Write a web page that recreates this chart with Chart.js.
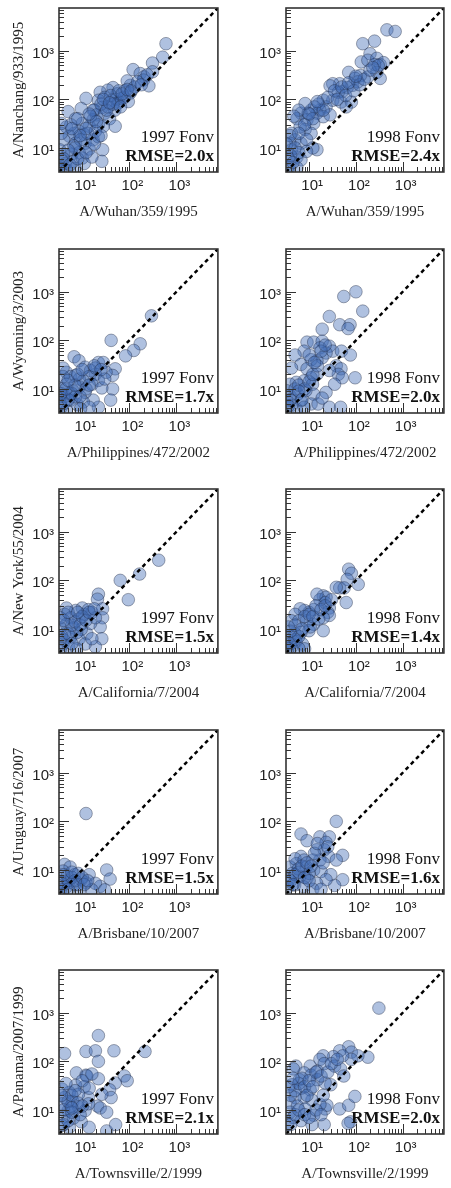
<!DOCTYPE html>
<html>
<head>
<meta charset="utf-8">
<script src="https://cdn.jsdelivr.net/npm/chart.js@4.4.1/dist/chart.umd.min.js"></script>
<style>
    body { margin: 0; background: #fff; }
    #figure { position: relative; width: 451px; height: 1188px; overflow: hidden; }
    #figure canvas { position: absolute; }
</style>
</head>
<body>
<div id="figure"></div>
<script>
// axis range (same on x and y, so the dashed y=x line runs corner to corner)
const axisMin = 3.2;
const axisMax = 7600;
const tickValues = [10, 100, 1000];
const tickLabels = ['10¹', '10²', '10³'];

// strain pairs (x axis, y axis) for each row
const xStrains = ['A/Wuhan/359/1995', 'A/Philippines/472/2002', 'A/California/7/2004', 'A/Brisbane/10/2007', 'A/Townsville/2/1999'];
const yStrains = ['A/Nanchang/933/1995', 'A/Wyoming/3/2003', 'A/New York/55/2004', 'A/Uruguay/716/2007', 'A/Panama/2007/1999'];
const seasons = ['1997 Fonv', '1998 Fonv'];
const rmse1997 = ['2.0x', '1.7x', '1.5x', '1.5x', '2.1x'];
const rmse1998 = ['2.4x', '2.0x', '1.4x', '1.6x', '2.0x'];

// titers, [x, y]
const wuhan1997 = [
    [600,1400],[510,740],[310,560],[120,410],[170,340],[205,290],[310,370],[200,250],[260,190],[105,195],
    [90,240],[80,150],[95,90],[45,175],[55,130],[35,155],[24,140],[30,110],[42,96],[52,100],
    [60,88],[68,105],[22,96],[26,68],[18,60],[12,105],[20,48],[30,52],[49,60],[38,40],
    [17,38],[14,28],[22,30],[28,28],[50,28],[10,32],[8.5,22],[11,19],[6.7,20],[5,56],
    [4.6,27],[5.3,17.5],[4,14.7],[7.2,12.5],[11.5,12.5],[17,14.7],[14,9.5],[8.6,8],[6,7.5],[4,7.5],
    [4.4,4.8],[6.3,5.2],[10,6.2],[27,9.2],[26,5.3],[3.3,9.2],[3.6,5.7],[3.4,4.2],[4.6,3.5],[7,3.8],
    [11,4.8],[16,6.5],[6.6,11],[9.2,14.7],[13,20],[19,22],[22,17],[56,82],[78,110],[104,135],
    [130,180],[35,70],[17,60],[9.5,65],[7.2,40],[5.7,30],[3.6,20],[3.6,32],
    [15,45],[25,80],[40,120],[33,60],[45,80],[60,150],[70,130],[90,160],[110,150],[20,35],
    [12,25],[9,18],[7,10],[5,9],[4,6],[3.5,3.8],[5.5,4.5],[8,6],[12,8],[18,12],
    [25,18],[6,25],[8,40],[14,50],[28,100],[38,85],[65,70],[150,230],[180,200],[240,320]
];
const wuhan1998 = [
    [460,2700],[690,2500],[250,1580],[140,1400],[200,870],[130,590],[180,640],[280,700],[330,520],[390,570],
    [250,520],[280,360],[180,290],[125,310],[70,360],[96,270],[330,270],[85,195],[65,175],[51,145],
    [110,230],[45,210],[32,210],[28,190],[42,140],[32,96],[48,88],[80,88],[62,70],[20,96],
    [23,70],[17,60],[14.7,52],[20,44],[28,48],[11,60],[6.7,52],[5.5,40],[9,38],[12.5,32],
    [8.2,24],[11,20],[6.4,27],[4.2,20],[5,14.7],[3.9,12.5],[6.7,12.5],[14.7,9.2],[4.2,9.2],[5.5,6.5],
    [6.7,5.7],[3.9,4.2],[5.5,3.9],[3.6,6.2],[16,80],[13,70],[9.5,52],[8.2,82],[6,60],[4.7,45],
    [3.9,18],[8.8,15],[12,10],[8.8,8.5],[3.3,12],
    [20,60],[25,110],[35,150],[50,180],[60,120],[90,150],[120,200],[150,260],[200,400],[300,500],
    [12,40],[8,30],[6,20],[5,10],[4,7],[3.5,4],[4.5,5],[6,8],[10,50],[15,90],
    [40,100],[70,220],[100,300],[230,450]
];
const philippines1997 = [
    [295,320],[41,100],[170,85],[124,62],[83,48],[6.7,46],[8.5,38],[22,35],[28,35],[11.5,28],
    [50,26],[44,19],[32,22],[19,20],[15,24],[14,18],[4.6,22],[3.9,18],[5.6,18],[8.6,16],
    [22,15],[44,10],[40,5.9],[22,4.2],[17,5.9],[11.5,8.5],[8.6,11],[6.3,9.2],[4.6,12.5],[3.6,10],
    [4.2,7],[5.7,5.9],[7.8,4.8],[10.5,5.4],[3.6,4.2],[4.6,3.6],[14,4.2],[16,12.5],[26,10.5],[10.5,14.7],
    [7.2,19],[30,16],[19,27],[3.9,27],[5.3,8],[7.2,6.9],[9.2,3.9],[3.4,7],[3.4,5],
    [4,5],[5,6],[6,8],[3.5,8],[4.5,10],[7,12],[9,7],[12,10],[5,15],[8,20],
    [10,25],[18,30],[25,25],[14,12]
];
const philippines1998 = [
    [100,1000],[55,800],[27,310],[140,400],[45,210],[75,210],[68,175],[19,170],[9,92],[7.8,60],
    [12.5,92],[19,96],[27,76],[17,70],[32,60],[23,55],[49,60],[76,50],[19,44],[14.7,38],
    [11,40],[5,50],[6.7,32],[4.2,27],[9,26],[38,30],[48,26],[42,20],[51,17],[96,17],
    [27,24],[14.7,20],[11,17],[7.8,14.7],[5.3,13.7],[3.9,12.5],[11.8,12.5],[35,12.5],[23,8.5],[12.5,7.8],
    [8.5,9.2],[5.7,7.8],[3.9,7.2],[6.7,5.7],[11,4.9],[4.2,4.6],[5.3,3.9],[15.5,4.9],[27,4.2],[47,4.2],
    [3.3,5.7],[3.3,9.2],[7.8,4.2],[19,6.5],
    [4,6],[5,10],[6,12],[8,10],[10,14],[12,20],[15,30],[18,60],[22,80],[10,50],
    [13,35],[6,9],[3.6,4.5],[7,6]
];
const california1997 = [
    [420,260],[165,135],[64,100],[95,40],[22,52],[21,41],[27,26],[27,17],[24,11],[26,6.3],
    [19,4.3],[12.5,8],[15,13],[11,20],[10,27],[7.2,24],[4.6,27],[4.2,20],[5.7,17],[8.5,16],
    [16,22],[19,17],[4.6,12.5],[6.6,10.5],[9.5,9.8],[4.2,7.9],[5.7,6.8],[8.5,6.2],[11.5,4.9],[3.9,4.9],
    [5.1,4.3],[7.6,3.9],[3.4,10.5],[3.4,17],[13.5,25],[7.6,8.4],[3.6,7.3],[16,6.3],
    [4,6],[5,8],[6,12],[7,14],[9,12],[10,18],[12,15],[4,15],[5,22],[8,22],
    [3.5,4],[6,5],[14,22],[18,26]
];
const california1998 = [
    [70,170],[80,140],[65,105],[112,83],[45,70],[56,70],[38,72],[62,35],[20,48],[17,40],
    [23,45],[22,35],[14.7,52],[27,27],[25,22],[27,19],[20,17],[12.5,25],[9.9,22],[8,24],
    [6.4,26],[5,20],[4.2,14.7],[6,14.7],[8.8,14.7],[12.5,12.5],[20,9.2],[9.9,9.2],[6.7,8.5],[5,8],
    [3.9,7],[5.3,5.5],[7.2,4.9],[4.2,4.2],[3.3,5],[3.6,11],[8,3.9],[10.5,11],[16,16],
    [4,5],[5,6],[6,7],[4,9],[5,12],[7,10],[8,18],[10,20],[12,18],[14,30],
    [18,25],[22,30],[30,40],[3.5,4],[6,4]
];
const brisbane1997 = [
    [12,145],[33,10],[39,6.5],[14,8],[24,4.6],[19,5.3],[4.2,13],[5.5,11.5],[3.9,9.5],[4.8,7.5],
    [6.9,8],[9.5,6.3],[12,5.4],[6.9,5],[4.5,4.4],[3.6,5.5],[9,3.9],[16,3.9],[30,3.9],[5.2,5.5],
    [8.2,8.5],
    [4,5],[5,6],[6,7],[4,8],[7,6],[8,5],[10,7],[3.5,4],[5,4],[6,9],
    [11,5],[13,6]
];
const brisbane1998 = [
    [38,100],[6.7,55],[9,40],[17,48],[27,48],[23,37],[14.5,26],[21,26],[26,19],[52,20],
    [38,16],[17,16],[12,16],[6.7,19],[5.3,13.5],[3.9,11.5],[8.7,11.5],[12.5,9.9],[18,9.3],[29,8],
    [52,6.3],[35,4.8],[23,6.3],[14.5,5.3],[9,6.8],[6.3,7.3],[4.4,8.5],[3.7,6.3],[4.9,4.9],[7.6,4.5],
    [12,4],[18,4],[3.5,4.5],[5,17],[7.8,16],[10,8.5],[5.9,10.5],
    [4,6],[5,8],[6,9],[7,12],[8,7],[9,14],[4.5,5],[10,6],[11,12],[13,22],
    [20,14],[15,35],[25,30]
];
const townsville1997 = [
    [22,340],[4.2,145],[12,160],[19,165],[47,165],[215,160],[22,100],[7.5,58],[12,52],[12.5,50],
    [78,50],[90,40],[50,36],[22,44],[38,26],[41,18],[26,21],[21,12],[24,11],[33,9],
    [33,3.7],[51,5],[13.5,18],[11,30],[7.2,32],[5.3,23],[4.2,18],[6.3,15],[8.3,11.5],[11.5,9.7],
    [5,9.7],[4,7.2],[6.5,6.8],[9.5,5.7],[14,4.4],[5.3,4.4],[3.7,4.8],[8.3,21],[13.5,13.4],[3.7,13.4],
    [5.7,12],[3.7,27],
    [4,10],[5,15],[6,20],[7,25],[8,14],[9,8],[4,5],[5,6],[6,9],[10,12],
    [3.6,20],[4.5,35],[10,40],[14,28],[16,55],[6,11]
];
const townsville1998 = [
    [310,1250],[70,200],[80,155],[45,165],[180,122],[110,130],[80,110],[52,130],[33,125],[20,130],
    [17,110],[21,90],[10.5,80],[5.2,80],[4.6,70],[7.8,58],[11,52],[15,63],[35,80],[47,70],
    [55,50],[29,33],[22,36],[15,42],[6.2,42],[4.3,33],[6.7,28],[10.5,26],[11.5,16],[7.8,18],
    [5,18],[3.9,14],[5.6,12],[8.2,10.5],[12.5,7.8],[22,10.5],[24,12.5],[3.9,9],[4.6,7],[6.7,6],
    [11.5,5],[21,5],[45,10.5],[70,12.5],[95,19],[77,5.7],[68,5.3],[3.5,5],[17,13],
    [4,20],[5,25],[6,35],[7,45],[8,30],[9,20],[10,40],[12,30],[14,60],[18,50],
    [25,60],[30,90],[40,110],[4,5],[5,8],[6,10],[8,8],[10,7],[14,10],[18,8],
    [3.6,30],[4.5,45],[20,20]
];

const panelData = [
    [wuhan1997, wuhan1998],
    [philippines1997, philippines1998],
    [california1997, california1998],
    [brisbane1997, brisbane1998],
    [townsville1997, townsville1998]
];
const rmseValues = [rmse1997, rmse1998];

const serif = "'Liberation Serif', 'Times New Roman', serif";
const sans = "'Liberation Sans', Arial, sans-serif";

// draws frame, inward ticks, tick labels, axis titles and the season / RMSE note
const panelDecor = {
    id: 'panelDecor',
    afterDraw(chart, args, opts) {
        const ctx = chart.ctx;
        const area = chart.chartArea;
        const xs = chart.scales.x;
        const ys = chart.scales.y;
        ctx.save();

        // inward ticks, long at each decade, short in between
        ctx.strokeStyle = '#333';
        ctx.lineWidth = 1;
        for (let dec = 1; dec <= 1000; dec *= 10) {
            for (let m = 1; m <= 9; m++) {
                const v = dec * m;
                if (v < axisMin || v > axisMax) continue;
                const len = m === 1 ? 10 : 5;
                const px = Math.round(xs.getPixelForValue(v)) + 0.5;
                const py = Math.round(ys.getPixelForValue(v)) + 0.5;
                ctx.beginPath();
                ctx.moveTo(px, area.bottom);
                ctx.lineTo(px, area.bottom - len);
                ctx.moveTo(area.left, py);
                ctx.lineTo(area.left + len, py);
                ctx.stroke();
            }
        }

        // frame
        ctx.lineWidth = 1.6;
        ctx.strokeStyle = '#333';
        ctx.strokeRect(area.left, area.top, area.right - area.left, area.bottom - area.top);

        // tick labels
        ctx.fillStyle = '#222';
        ctx.font = '15px ' + sans;
        tickValues.forEach((v, i) => {
            const px = xs.getPixelForValue(v);
            const py = ys.getPixelForValue(v);
            ctx.textAlign = 'center';
            ctx.textBaseline = 'alphabetic';
            ctx.fillText(tickLabels[i], px + 3, area.bottom + 18);
            ctx.textAlign = 'right';
            ctx.fillText(tickLabels[i], area.left - 5, py + 7);
        });

        // x axis title
        ctx.font = '15px ' + serif;
        ctx.textAlign = 'center';
        ctx.fillStyle = '#222';
        ctx.fillText(opts.xTitle, (area.left + area.right) / 2, area.bottom + 44);

        // y axis title (left column only)
        if (opts.yTitle) {
            ctx.save();
            ctx.translate(area.left - 36, (area.top + area.bottom) / 2);
            ctx.rotate(-Math.PI / 2);
            ctx.textAlign = 'center';
            ctx.fillText(opts.yTitle, 0, 0);
            ctx.restore();
        }

        // season and RMSE
        ctx.textAlign = 'right';
        ctx.font = '17px ' + serif;
        ctx.fillStyle = '#111';
        ctx.fillText(opts.season, area.right - 4, area.top + 134);
        ctx.font = 'bold 17px ' + serif;
        ctx.fillText('RMSE=' + opts.rmse, area.right - 4, area.top + 153);

        ctx.restore();
    }
};

const figure = document.getElementById('figure');

for (let r = 0; r < 5; r++) {
    for (let c = 0; c < 2; c++) {
        const canvas = document.createElement('canvas');
        const w = c === 0 ? 225 : 224;
        canvas.width = w;
        canvas.height = 240;
        canvas.style.left = (c === 0 ? 0 : 227) + 'px';
        canvas.style.top = Math.round(r * 240.5) + 'px';
        figure.appendChild(canvas);

        const points = panelData[r][c].map(p => ({ x: p[0], y: p[1] }));

        new Chart(canvas.getContext('2d'), {
            data: {
                datasets: [
                    {
                        type: 'line',
                        data: [{ x: axisMin, y: axisMin }, { x: axisMax, y: axisMax }],
                        borderColor: '#000',
                        borderWidth: 2.5,
                        borderDash: [4, 3.5],
                        pointRadius: 0,
                        order: 0,
                        clip: 0
                    },
                    {
                        type: 'scatter',
                        data: points,
                        pointRadius: 6.3,
                        backgroundColor: 'rgba(65, 108, 182, 0.42)',
                        borderColor: 'rgba(30, 40, 65, 0.5)',
                        borderWidth: 0.8,
                        order: 1,
                        clip: 0
                    }
                ]
            },
            options: {
                responsive: false,
                animation: false,
                events: [],
                layout: { padding: { left: 59, right: c === 0 ? 1 : 2, top: 8, bottom: 68 } },
                scales: {
                    x: { type: 'logarithmic', min: axisMin, max: axisMax, display: false },
                    y: { type: 'logarithmic', min: axisMin, max: axisMax, display: false }
                },
                plugins: {
                    legend: { display: false },
                    tooltip: { enabled: false },
                    panelDecor: {
                        xTitle: xStrains[r],
                        yTitle: c === 0 ? yStrains[r] : null,
                        season: seasons[c],
                        rmse: rmseValues[c][r]
                    }
                }
            },
            plugins: [panelDecor]
        });
    }
}
</script>
</body>
</html>
